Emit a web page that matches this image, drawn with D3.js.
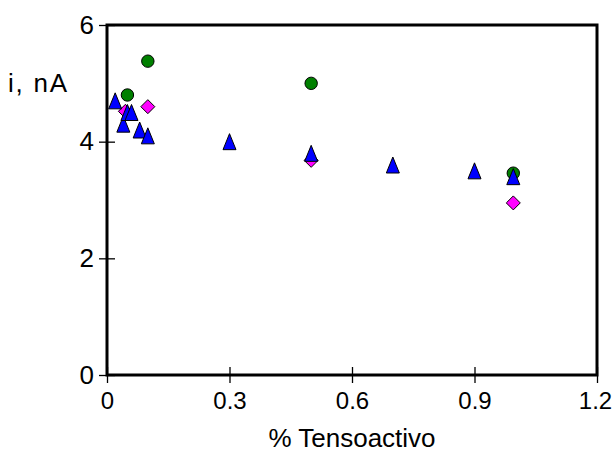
<!DOCTYPE html>
<html>
<head>
<meta charset="utf-8">
<script src="https://cdn.jsdelivr.net/npm/d3@7"></script>
<style>
  html, body { margin: 0; padding: 0; background: #fff; }
  svg text { font-family: "Liberation Sans", Arial, sans-serif; fill: #000; }
</style>
</head>
<body>
<svg id="chart" width="613" height="454"></svg>
<script>
// Current (nA) versus surfactant concentration (%), three series
const circleX = [0.05, 0.1, 0.5, 0.995];
const circleY = [4.8, 5.38, 5.0, 3.46];

const diamondX = [0.045, 0.1, 0.5, 0.995];
const diamondY = [4.52, 4.6, 3.68, 2.95];

const triangleX = [0.02, 0.04, 0.05, 0.06, 0.08, 0.1, 0.3, 0.5, 0.7, 0.9, 0.995];
const triangleY = [4.7, 4.3, 4.5, 4.5, 4.2, 4.1, 4.0, 3.8, 3.6, 3.5, 3.4];

const xTicks = [0, 0.3, 0.6, 0.9, 1.2];
const xTickLabels = ["0", "0.3", "0.6", "0.9", "1.2"];
const yTicks = [0, 2, 4, 6];
const yTickLabels = ["0", "2", "4", "6"];

const xTitle = "% Tensoactivo";
const yTitle = "i, nA";

const svg = d3.select("#chart");
const plotL = 107, plotR = 597, plotT = 25, plotB = 375;
const tickFont = 24;
const titleFont = 26;

const x = d3.scaleLinear().domain([0, 1.2]).range([plotL, plotR]);
const y = d3.scaleLinear().domain([0, 6]).range([plotB, plotT]);

const tickLen = 8;

// x axis ticks (crossing the axis line) and labels
const xAxis = d3.axisBottom(x)
  .tickValues(xTicks)
  .tickFormat((d, i) => xTickLabels[i])
  .tickSizeInner(tickLen)
  .tickSizeOuter(0)
  .tickPadding(8);
const gx = svg.append("g").attr("transform", `translate(0,${plotB})`).call(xAxis);
gx.select(".domain").remove();
gx.selectAll(".tick line").attr("y1", -tickLen).attr("y2", tickLen)
  .attr("stroke", "#000").attr("stroke-width", 1.3);
gx.selectAll(".tick text").attr("font-size", tickFont).attr("dy", "0.71em")
  .attr("y", tickLen + 9)
  .attr("x", (d, i) => i === xTicks.length - 1 ? -2 : 0);

// y axis ticks and labels
const yAxis = d3.axisLeft(y)
  .tickValues(yTicks)
  .tickFormat((d, i) => yTickLabels[i])
  .tickSizeInner(tickLen)
  .tickSizeOuter(0)
  .tickPadding(6);
const gy = svg.append("g").attr("transform", `translate(${plotL},0)`).call(yAxis);
gy.select(".domain").remove();
gy.selectAll(".tick line").attr("x1", -tickLen).attr("x2", tickLen)
  .attr("stroke", "#000").attr("stroke-width", 1.3);
gy.selectAll(".tick text").attr("font-size", titleFont).attr("x", -tickLen - 5);

// plot frame
svg.append("rect")
  .attr("x", plotL).attr("y", plotT)
  .attr("width", plotR - plotL).attr("height", plotB - plotT)
  .attr("fill", "none").attr("stroke", "#000").attr("stroke-width", 3);

// titles
svg.append("text")
  .attr("x", 352).attr("y", 447)
  .attr("text-anchor", "middle").attr("font-size", titleFont)
  .text(xTitle);
svg.append("text")
  .attr("x", 8).attr("y", 92)
  .attr("font-size", titleFont)
  .attr("textLength", 59)
  .text(yTitle);

const marks = svg.append("g");

// circles
marks.selectAll("circle.s1")
  .data(circleX.map((v, i) => [v, circleY[i]]))
  .join("circle")
  .attr("class", "s1")
  .attr("cx", d => x(d[0])).attr("cy", d => y(d[1]))
  .attr("r", 6.2)
  .attr("fill", "#008000").attr("stroke", "#000").attr("stroke-width", 1);

// diamonds
const dsz = 7;
marks.selectAll("path.s2")
  .data(diamondX.map((v, i) => [v, diamondY[i]]))
  .join("path")
  .attr("class", "s2")
  .attr("d", d => {
    const cx = x(d[0]), cy = y(d[1]);
    return `M${cx},${cy - dsz}L${cx + dsz},${cy}L${cx},${cy + dsz}L${cx - dsz},${cy}Z`;
  })
  .attr("fill", "#ff00ff").attr("stroke", "#000").attr("stroke-width", 1);

// triangles
const tw = 6.5, th = 8;
marks.selectAll("path.s3")
  .data(triangleX.map((v, i) => [v, triangleY[i]]))
  .join("path")
  .attr("class", "s3")
  .attr("d", d => {
    const cx = x(d[0]), cy = y(d[1]);
    return `M${cx},${cy - th}L${cx + tw},${cy + th}L${cx - tw},${cy + th}Z`;
  })
  .attr("fill", "#0000ff").attr("stroke", "#000").attr("stroke-width", 1);
</script>
</body>
</html>
